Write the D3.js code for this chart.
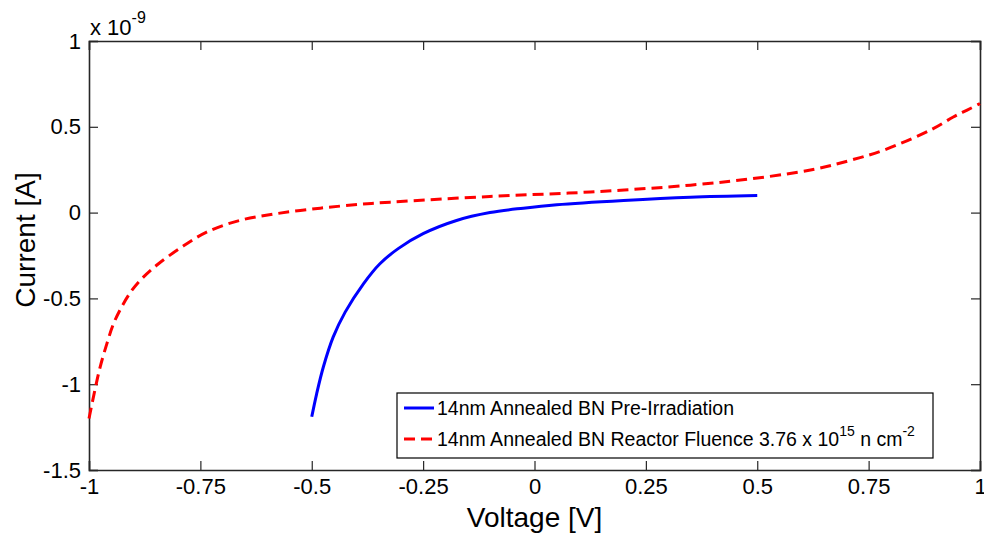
<!DOCTYPE html>
<html>
<head>
<meta charset="utf-8">
<script src="https://cdn.jsdelivr.net/npm/d3@7"></script>
<style>
  body { margin: 0; background: #fff; }
  svg { font-family: "Liberation Sans", Arial, sans-serif; }
</style>
</head>
<body>
<svg id="chart" width="984" height="537"></svg>
<script>
// ----------
// data (current in units of 1e-9 A)
var preVoltage = [-0.5, -0.489, -0.474, -0.452, -0.425, -0.384, -0.347, -0.306, -0.25, -0.175, -0.1, -0.025, 0.05, 0.2, 0.35, 0.5];
var preCurrent = [-1.19, -1.056, -0.9, -0.726, -0.58, -0.415, -0.298, -0.21, -0.123, -0.046, 0.0, 0.026, 0.046, 0.071, 0.09, 0.1];

var postVoltage = [-1.0, -0.987, -0.975, -0.96, -0.945, -0.927, -0.904, -0.878, -0.844, -0.792, -0.736, -0.661, -0.579, -0.481, -0.392, -0.324, -0.1, 0.125, 0.35, 0.52, 0.634, 0.708, 0.783, 0.895, 0.94, 0.97, 1.0];
var postCurrent = [-1.2, -1.037, -0.9, -0.765, -0.648, -0.551, -0.454, -0.376, -0.298, -0.201, -0.114, -0.045, -0.006, 0.026, 0.048, 0.061, 0.094, 0.12, 0.16, 0.208, 0.256, 0.304, 0.363, 0.489, 0.557, 0.596, 0.635];

var xTicks = [-1, -0.75, -0.5, -0.25, 0, 0.25, 0.5, 0.75, 1];
var yTicks = [-1.5, -1, -0.5, 0, 0.5, 1];
var legendLabels = ['14nm Annealed BN Pre-Irradiation', '14nm Annealed BN Reactor Fluence 3.76 x 10'];

// ----------
var plotLeft = 89, plotRight = 980, plotTop = 41, plotBottom = 470;
var svg = d3.select('#chart');

var x = d3.scaleLinear().domain([-1, 1]).range([plotLeft, plotRight]);
var y = d3.scaleLinear().domain([-1.5, 1]).range([plotBottom, plotTop]);

var tickLen = 9;
var fmt = function(d) { return String(d); };

// bottom axis
var gx = svg.append('g')
  .attr('transform', 'translate(0,' + plotBottom + ')')
  .call(d3.axisBottom(x).tickValues(xTicks).tickSize(-tickLen).tickPadding(13).tickFormat(fmt));
// top axis (mirrored ticks, no labels)
var gxt = svg.append('g')
  .attr('transform', 'translate(0,' + plotTop + ')')
  .call(d3.axisTop(x).tickValues(xTicks).tickSize(-tickLen).tickFormat(''));
// left axis
var gy = svg.append('g')
  .attr('transform', 'translate(' + plotLeft + ',0)')
  .call(d3.axisLeft(y).tickValues(yTicks).tickSize(-tickLen).tickPadding(8).tickFormat(fmt));
// right axis
var gyr = svg.append('g')
  .attr('transform', 'translate(' + plotRight + ',0)')
  .call(d3.axisRight(y).tickValues(yTicks).tickSize(-tickLen).tickFormat(''));

[gx, gxt, gy, gyr].forEach(function(g) {
  g.select('.domain').attr('stroke', '#262626').attr('stroke-width', 1.6);
  g.selectAll('.tick line').attr('stroke', '#262626').attr('stroke-width', 1.2);
  g.selectAll('.tick text')
    .attr('fill', '#000')
    .style('font-family', '"Liberation Sans", Arial, sans-serif')
    .style('font-size', '22px');
});
gx.selectAll('.tick text').attr('dy', '0.5em');

// exponent label
var ex = svg.append('text')
  .attr('x', 90)
  .attr('y', 35)
  .style('font-size', '22px');
ex.append('tspan').text('x 10');
ex.append('tspan').attr('dy', -12).style('font-size', '16px').text('-9');

// axis titles
svg.append('text')
  .attr('x', x(0))
  .attr('y', 527)
  .attr('text-anchor', 'middle')
  .style('font-size', '28px')
  .text('Voltage [V]');

svg.append('text')
  .attr('transform', 'translate(35,240) rotate(-90)')
  .attr('text-anchor', 'middle')
  .style('font-size', '28px')
  .text('Current [A]');

// ----------
// lines
var line = d3.line()
  .x(function(d) { return x(d[0]); })
  .y(function(d) { return y(d[1]); })
  .curve(d3.curveCatmullRom.alpha(0.5));

var preData = d3.zip(preVoltage, preCurrent);
var postData = d3.zip(postVoltage, postCurrent);

svg.append('path')
  .datum(postData)
  .attr('d', line)
  .attr('fill', 'none')
  .attr('stroke', '#ff0000')
  .attr('stroke-width', 3)
  .attr('stroke-dasharray', '11,6');

svg.append('path')
  .datum(preData)
  .attr('d', line)
  .attr('fill', 'none')
  .attr('stroke', '#0000ff')
  .attr('stroke-width', 3);

// ----------
// legend
var lg = svg.append('g');
lg.append('rect')
  .attr('x', 397)
  .attr('y', 393)
  .attr('width', 536)
  .attr('height', 65)
  .attr('fill', '#fff')
  .attr('stroke', '#000')
  .attr('stroke-width', 1.2);

var rows = [
  { y: 408, color: '#0000ff', dash: null, label: legendLabels[0] },
  { y: 439, color: '#ff0000', dash: '11,6', label: legendLabels[1] }
];
rows.forEach(function(r, i) {
  lg.append('line')
    .attr('x1', 404).attr('x2', 434)
    .attr('y1', r.y).attr('y2', r.y)
    .attr('stroke', r.color)
    .attr('stroke-width', 3)
    .attr('stroke-dasharray', r.dash);
  var t = lg.append('text')
    .attr('x', 437)
    .attr('y', r.y + 7)
    .style('font-size', '19.5px')
    .text(r.label);
  if (i === 1) {
    t.append('tspan').attr('dy', -10).style('font-size', '14px').text('15');
    t.append('tspan').attr('dy', 10).text(' n cm');
    t.append('tspan').attr('dy', -10).style('font-size', '14px').text('-2');
  }
});
</script>
</body>
</html>
